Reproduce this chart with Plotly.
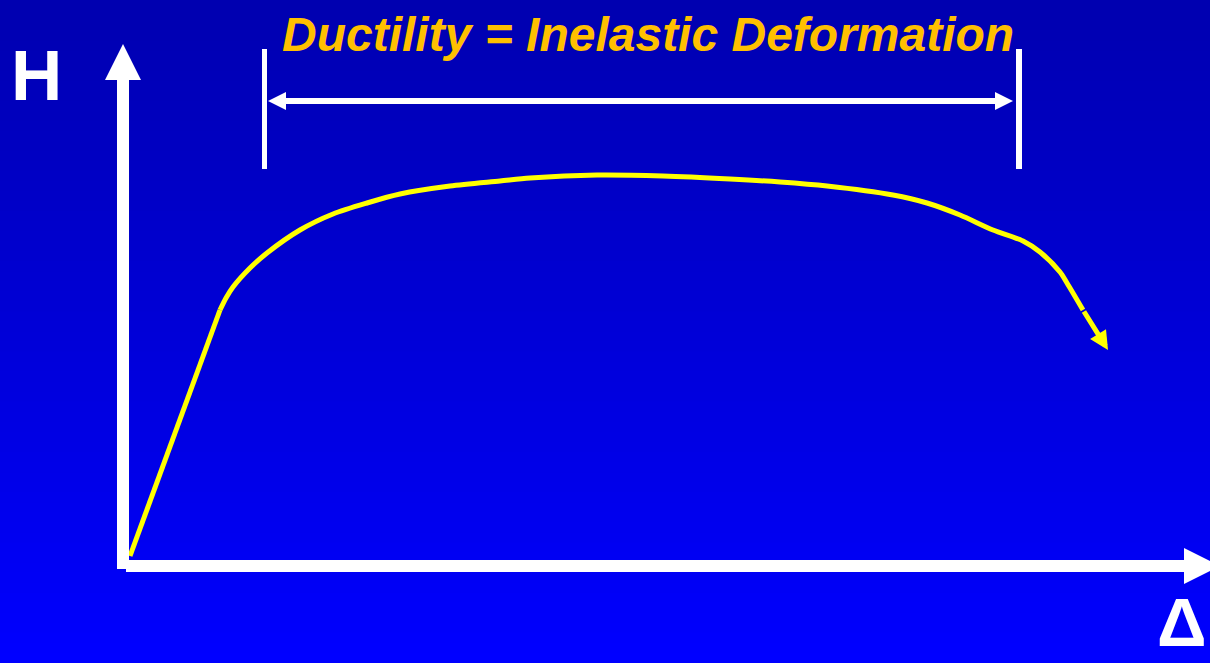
import plotly.graph_objects as go

# ---- data (displacement Δ, force H), origin at the axes corner ----
elastic_delta = [2, 92]
elastic_H = [4, 250]
plastic_delta = [92, 98, 105, 122, 139, 172, 205, 239, 272, 322, 372, 402, 469, 535, 602, 652, 699, 765, 799, 832, 865, 895, 912, 932, 939, 955]
plastic_H = [250, 262, 273, 292, 307, 330, 346, 357, 366, 374, 379, 382, 385, 384, 381, 378, 374, 365, 357, 345, 330, 319, 308, 288, 277, 250]
tip_delta = 980
tip_H = 210

title_text = "Ductility = Inelastic Deformation"
y_label = "H"
x_label = "Δ"

OX, OY = 128, 560  # pixel position of origin
W, H = 1210, 663


def P(px, py):
    return px - OX, OY - py


fig = go.Figure()

# background gradient
shapes = []
n = 66
for i in range(n):
    t = i / (n - 1)
    b = int(round(176 + (255 - 176) * t))
    shapes.append(dict(type="rect", xref="paper", yref="paper",
                       x0=0, x1=1, y0=1 - i / n, y1=1 - (i + 1) / n - 0.002,
                       fillcolor=f"rgb(0,0,{b})", line=dict(width=0), layer="below"))


def rect(x0, y0, x1, y1, color="white"):
    a = P(x0, y0)
    b = P(x1, y1)
    return dict(type="rect", xref="x", yref="y", x0=a[0], y0=a[1], x1=b[0], y1=b[1],
                fillcolor=color, line=dict(width=0), layer="above")


def poly(pts, color="white"):
    d = ""
    for k, (px, py) in enumerate(pts):
        x, y = P(px, py)
        d += ("M" if k == 0 else "L") + f"{x},{y} "
    d += "Z"
    return dict(type="path", xref="x", yref="y", path=d, fillcolor=color,
                line=dict(width=0), layer="above")


# axes
shapes.append(rect(117, 80, 129, 569))
shapes.append(poly([(105, 80), (141, 80), (123, 44)]))
shapes.append(rect(126, 560, 1184, 572))
shapes.append(poly([(1184, 548), (1184, 584), (1220, 566)]))

# dimension line
shapes.append(rect(262, 49, 267, 169))
shapes.append(rect(1016, 49, 1022, 169))
shapes.append(rect(283, 98, 998, 104))
shapes.append(poly([(268, 101), (286, 92), (286, 110)]))
shapes.append(poly([(1013, 101), (995, 92), (995, 110)]))

fig.add_trace(go.Scatter(x=elastic_delta, y=elastic_H, mode="lines",
                         line=dict(color="#FFFF00", width=5), hoverinfo="skip"))
fig.add_trace(go.Scatter(x=plastic_delta, y=plastic_H, mode="lines",
                         line=dict(color="#FFFF00", width=5, shape="spline", smoothing=0.8),
                         hoverinfo="skip"))

annotations = [
    dict(x=tip_delta, y=tip_H, ax=plastic_delta[-1], ay=plastic_H[-1],
         xref="x", yref="y", axref="x", ayref="y", text="", showarrow=True,
         arrowhead=2, arrowsize=0.75, arrowwidth=5, arrowcolor="#FFFF00",
         standoff=0, startstandoff=0),
    dict(x=(648 - OX), y=OY - 34, xref="x", yref="y", text=f"<b><i>{title_text}</i></b>",
         showarrow=False, xanchor="center", yanchor="middle",
         font=dict(family="Liberation Sans, Arial", size=48, color="#FFC000")),
    dict(x=36 - OX, y=OY - 75, xref="x", yref="y", text=f"<b>{y_label}</b>",
         showarrow=False, xanchor="center", yanchor="middle",
         font=dict(family="Liberation Sans, Arial", size=71, color="white")),
    dict(x=1182 - OX, y=OY - 622, xref="x", yref="y", text=f"<b>{x_label}</b>",
         showarrow=False, xanchor="center", yanchor="middle",
         font=dict(family="Liberation Sans, Arial", size=69, color="white")),
]

fig.update_layout(
    width=W, height=H,
    margin=dict(l=0, r=0, t=0, b=0),
    paper_bgcolor="rgb(0,0,200)", plot_bgcolor="rgba(0,0,0,0)",
    showlegend=False,
    xaxis=dict(range=[-OX, W - OX], visible=False, fixedrange=True),
    yaxis=dict(range=[OY - H, OY], visible=False, fixedrange=True),
    shapes=shapes, annotations=annotations,
)

fig.write_html("out.html", config={"displayModeBar": False},
               post_script="document.body.style.margin='0';document.body.style.overflow='hidden';")
